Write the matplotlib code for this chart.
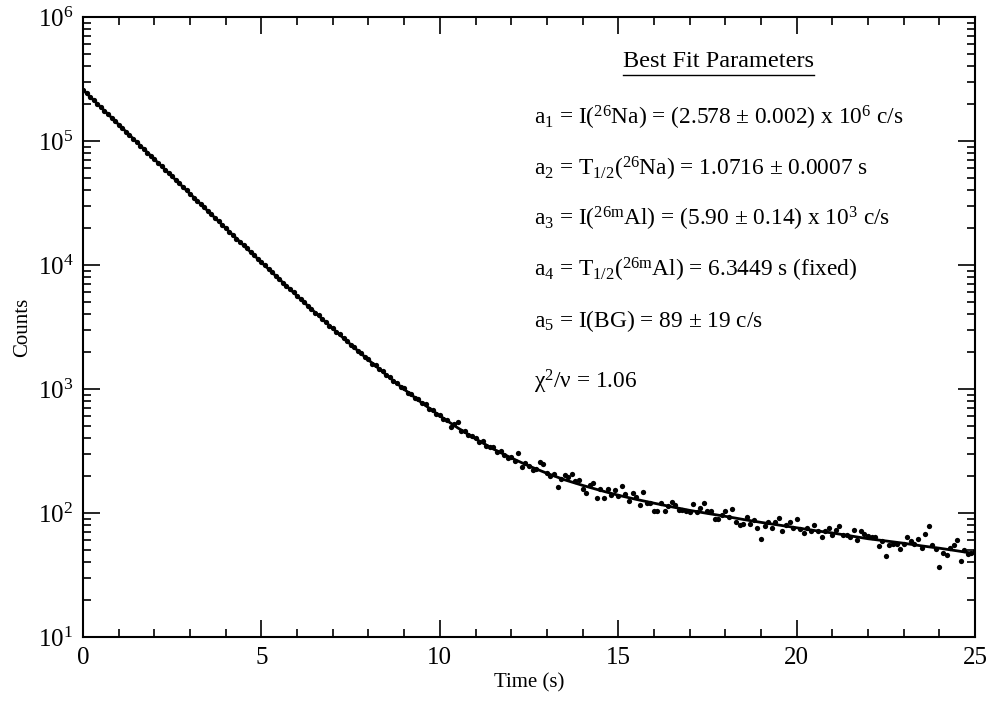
import numpy as np
import matplotlib
matplotlib.use("Agg")
import matplotlib.pyplot as plt
from matplotlib.ticker import LogLocator, MultipleLocator, LogFormatterMathtext, NullFormatter

plt.rcParams['font.family'] = ['Liberation Serif', 'DejaVu Serif']
plt.rcParams['mathtext.fontset'] = 'custom'
plt.rcParams['mathtext.rm'] = 'Liberation Serif'
plt.rcParams['mathtext.it'] = 'Liberation Serif:italic'
plt.rcParams['mathtext.bf'] = 'Liberation Serif:bold'

# measured counts per 0.1 s bin, t = 0.0 ... 25.0 s
counts = [
    258000, 241500, 227200, 212300, 199600, 186400, 175300, 163800, 154100, 144000,
    135300, 127200, 118900, 111900, 104400, 98300, 91700, 86400, 80600, 75900,
    71100, 66900, 62500, 58800, 54900, 51800, 48300, 45500, 42500, 40100,
    37500, 35000, 33100, 30800, 29100, 27100, 25600, 23900, 22500, 21000,
    19800, 18500, 17500, 16300, 15400, 14400, 13600, 12650, 11950, 11150,
    10480, 9910, 9230, 8750, 8160, 7720, 7190, 6820, 6350, 6020,
    5650, 5270, 5020, 4670, 4440, 4130, 3940, 3660, 3490, 3240,
    3090, 2870, 2750, 2560, 2450, 2280, 2180, 2020, 1940, 1800,
    1730, 1600, 1550, 1440, 1395, 1290, 1250, 1160, 1120, 1035,
    1010, 930, 915, 845, 830, 765, 750, 690, 680, 625,
    615, 575, 565, 490, 525, 545, 462, 455, 425, 418,
    400, 372, 378, 350, 338, 340, 312, 315, 292, 280,
    282, 262, 305, 236, 252, 241, 222, 228, 259, 250,
    212, 199, 205, 161, 187, 203, 196, 207, 180, 185,
    157, 145, 168, 175, 131, 155, 131, 155, 140, 153,
    137, 165, 142, 125, 144, 134, 115, 147, 120, 121,
    104, 104, 120, 103, 114, 123, 116, 106, 106, 104,
    101, 118, 101, 109, 121, 103, 104, 90, 90, 97,
    104, 92, 108, 85, 80, 81, 92, 81, 87, 76,
    62, 78, 85, 76, 85, 91, 72, 80, 84, 75,
    89, 74, 69, 76, 72, 80, 71, 64, 72, 76,
    67, 73, 79, 66, 66, 64, 73, 60, 72, 68,
    65, 64, 64, 54, 59, 45, 55, 56, 56, 51,
    56, 64, 59, 56, 62, 52, 68, 78, 55, 51,
    37, 48, 46, 52, 55, 61, 41, 50, 47, 48,
    49,
]
times = np.linspace(0, 25, len(counts))

# fit curve, every 0.5 s
fit_t = np.linspace(0, 25, 51)
fit_counts = [
    258399, 187138, 135548, 98217, 71193, 51631, 37464, 27210, 19783, 14405,
    10507, 7682, 5634, 4148, 3069, 2285, 1714, 1298, 994, 771,
    607, 486, 396, 328, 278, 239, 209, 185, 167, 152,
    139, 128.8, 120, 112.1, 105, 99.2, 94, 88.7, 84, 79.9,
    76, 72.2, 69, 65.4, 62, 59.5, 57, 54.3, 52, 49.5,
    47,
]

param_lines = [
    r"a$_1$ = I($^{26}$Na) = (2.578 ± 0.002) x 10$^6$ c/s",
    r"a$_2$ = T$_{1/2}$($^{26}$Na) = 1.0716 ± 0.0007 s",
    r"a$_3$ = I($^{26\mathrm{m}}$Al) = (5.90 ± 0.14) x 10$^3$ c/s",
    r"a$_4$ = T$_{1/2}$($^{26\mathrm{m}}$Al) = 6.3449 s (fixed)",
    r"a$_5$ = I(BG) = 89 ± 19 c/s",
]
chi_text = r"χ$^2$/ν = 1.06"

fig = plt.figure(figsize=(9.91, 7.04), dpi=100)
ax = fig.add_axes([0.0838, 0.0952, 0.9001, 0.8807])

ax.plot(times, counts, 'o', color='black', markersize=3.8, markeredgewidth=0)
ax.plot(fit_t, fit_counts, '-', color='black', linewidth=2.0)

ax.set_yscale('log')
ax.set_xlim(0, 25)
ax.set_ylim(10, 1e6)

ax.xaxis.set_major_locator(MultipleLocator(5))
ax.xaxis.set_minor_locator(MultipleLocator(1))
ax.yaxis.set_major_locator(LogLocator(base=10))
ax.yaxis.set_minor_locator(LogLocator(base=10, subs=np.arange(2, 10)))
ax.yaxis.set_major_formatter(LogFormatterMathtext())
ax.yaxis.set_minor_formatter(NullFormatter())

ax.tick_params(which='both', direction='in', top=True, right=True, width=1.2)
ax.tick_params(which='major', length=12, labelsize=18, pad=7)
ax.tick_params(which='minor', length=6)
for s in ax.spines.values():
    s.set_linewidth(1.5)

ax.set_xlabel("Time (s)", fontsize=15, labelpad=3)
ax.set_ylabel("Counts", fontsize=15, labelpad=4)

title = ax.text(0.712, 0.919, "Best Fit Parameters", transform=ax.transAxes,
                ha='center', va='baseline', fontsize=17.5)
ys = [0.826, 0.745, 0.664, 0.581, 0.500]
for y, s in zip(ys, param_lines):
    ax.text(0.505, y, s, transform=ax.transAxes, ha='left', va='baseline', fontsize=16.8)
ax.text(0.505, 0.400, chi_text, transform=ax.transAxes, ha='left', va='baseline', fontsize=16.8)

# underline the heading
fig.canvas.draw()
bb = title.get_window_extent().transformed(ax.transAxes.inverted())
ax.plot([bb.x0, bb.x1], [bb.y0 - 0.004, bb.y0 - 0.004], color='black', linewidth=1.0,
        transform=ax.transAxes, clip_on=False)

fig.savefig("out.png", dpi=100)
